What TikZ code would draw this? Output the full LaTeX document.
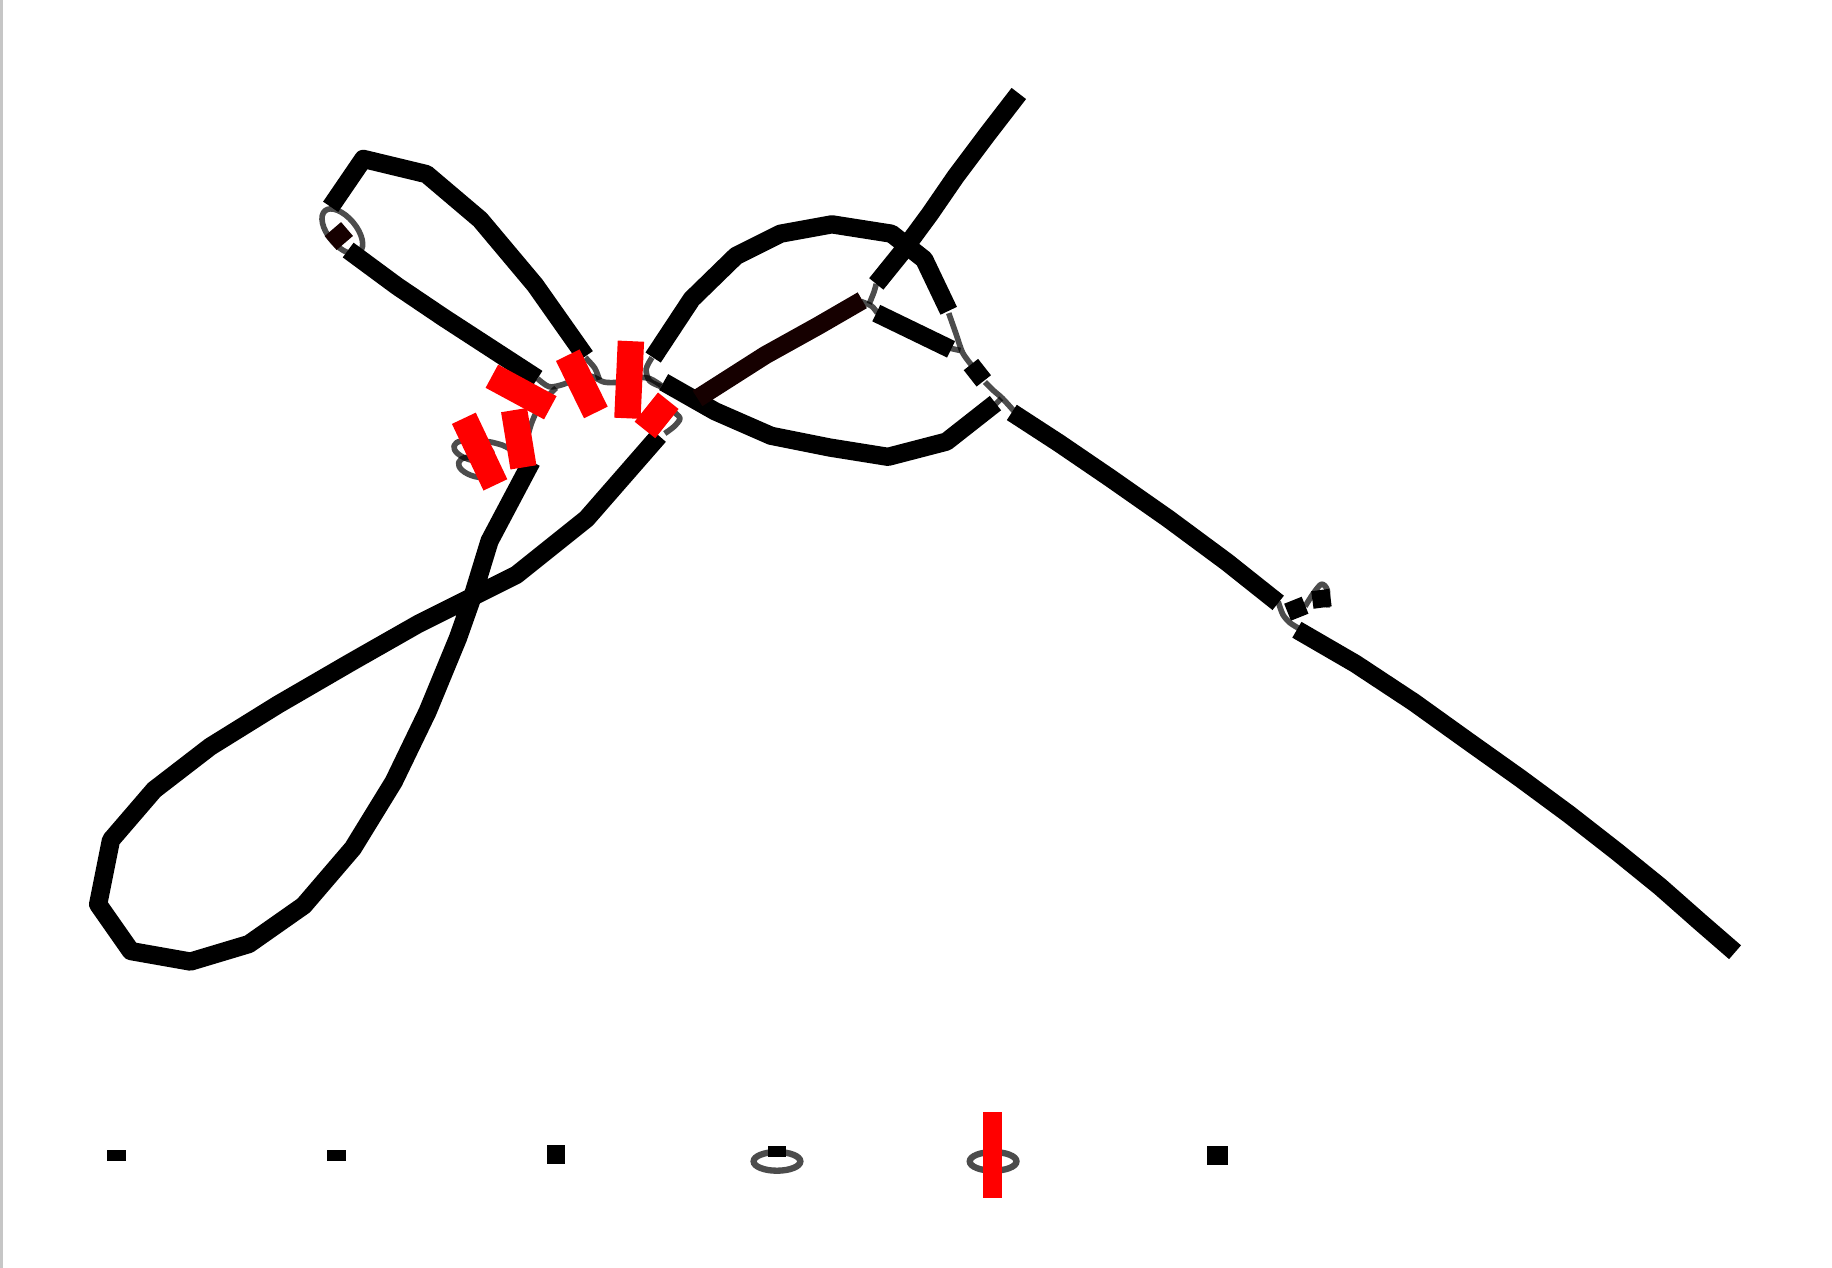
\documentclass[tikz,border=0pt]{standalone}
\definecolor{darkstrand}{RGB}{22,0,0}
\begin{document}
\begin{tikzpicture}[x=0.011684cm, y=-0.011684cm,
    sheet/.style={line width=5.2pt, line join=round},
    darksheet/.style={sheet, draw=darkstrand},
    helix/.style={line width=7.5pt, draw=red},
    coil/.style={line width=1.6pt, draw=black, draw opacity=0.7, line join=round},
    ring/.style={line width=1.8pt, draw=black!70}]
    \useasboundingbox (0,0) rectangle (1568,1085);
    \draw[gray!45, line width=1pt] (1,0) -- (1,1085);

    % loops
    \draw[coil, rotate around={-50:(293,198)}] (293,198) ellipse [x radius=23, y radius=12];
    \draw[coil] (306,214) -- (302,219);
    \draw[coil] plot[smooth] coordinates {(460,324) (470,331) (482,329) (494,324) (506,322) (517,327) (530,327) (543,323) (556,324) (566,330)};
    \draw[coil] plot[smooth] coordinates {(476,332) (468,340) (460,351) (455,362) (450,377) (442,386) (430,381) (418,378) (407,378)};
    \draw[coil, rotate around={-15:(405,386)}] (405,386) ellipse [x radius=17, y radius=8];
    \draw[coil, rotate around={-15:(408,400)}] (408,400) ellipse [x radius=16, y radius=8];
    \draw[coil] plot[smooth] coordinates {(501,306) (509,315) (513,325)};
    \draw[coil] plot[smooth] coordinates {(558,306) (553,316) (556,326) (566,331)};
    \draw[coil] plot[smooth] coordinates {(576,352) (582,358) (577,365) (569,371)};
    \draw[coil] plot[smooth] coordinates {(737,258) (746,262) (751,268)};
    \draw[coil] plot[smooth] coordinates {(744,260) (748,250) (750,243)};
    \draw[coil] plot[smooth] coordinates {(812,268) (818,285) (824,302) (832,313)};
    \draw[coil] (813,298) -- (822,300);
    \draw[coil] plot[smooth] coordinates {(843,327) (850,334) (858,341) (868,352)};
    \draw[coil] (852,346) -- (857,341);
    \draw[coil] plot[smooth] coordinates {(1094,515) (1098,526) (1104,533) (1112,538)};
    \draw[coil] plot[smooth] coordinates {(1117,519) (1124,508) (1131,500) (1136,505) (1136,520)};

    % strands
    \draw[sheet] (283,177) -- (311,136) -- (365,149) -- (411,188) -- (458,244) -- (501,305);
    \draw[darksheet] (283,208) -- (297,196);
    \draw[sheet] (298,214) -- (340,245) -- (380,272) -- (420,298) -- (460,324);
    \draw[sheet] (455,395) -- (419,463) -- (404,512) -- (392,546) -- (366,609) -- (337,669)
        -- (302,726) -- (260,775) -- (213,808) -- (163,823) -- (112,814) -- (84,774)
        -- (95,719) -- (132,676) -- (180,639) -- (238,603) -- (300,567) -- (358,534)
        -- (402,512) -- (442,492) -- (502,444) -- (564,373);
    \draw[sheet] (559,306) -- (592,256) -- (630,219) -- (668,200) -- (712,192) -- (763,200) -- (791,222) -- (812,266);
    \draw[sheet] (750,268) -- (814,299);
    \draw[sheet] (872,80) -- (845,115) -- (818,151) -- (796,183) -- (771,217) -- (750,243);
    \draw[sheet] (568,327) -- (612,352) -- (660,373) -- (710,383) -- (760,391) -- (810,378) -- (852,345);
    \draw[darksheet] (597,341) -- (655,304) -- (700,279) -- (738,257);
    \draw[sheet] (831,312) -- (842,326);
    \draw[sheet] (866,353) -- (906,379) -- (950,409) -- (1000,444) -- (1050,481) -- (1094,516);
    \draw[sheet] (1102,524) -- (1117,518);
    \draw[sheet] (1130,505) -- (1132,520);
    \draw[sheet] (1110,539) -- (1160,568) -- (1210,601) -- (1256,634) -- (1301,666) -- (1343,697)
        -- (1384,729) -- (1421,759) -- (1455,789) -- (1485,815);

    % helices
    \draw[helix] (397,358) -- (424,415);
    \draw[helix] (440,351) -- (448,400);
    \draw[helix] (421,322) -- (471,349);
    \draw[helix] (486,304) -- (510,353);
    \draw[helix] (540,292) -- (537,358);
    \draw[helix] (572,343) -- (552,368);

    % legend row
    \fill (91.5,984) rectangle (108,994);
    \fill (280,984) rectangle (296,994);
    \fill (468,980) rectangle (484,996);
    \draw[ring] (665,994) ellipse [x radius=20, y radius=8];
    \fill (657,981) rectangle (673,990);
    \draw[ring] (850,994) ellipse [x radius=20, y radius=8];
    \fill[red] (841,952) rectangle (858,1025);
    \fill (1033,981) rectangle (1051,997);
\end{tikzpicture}
\end{document}
